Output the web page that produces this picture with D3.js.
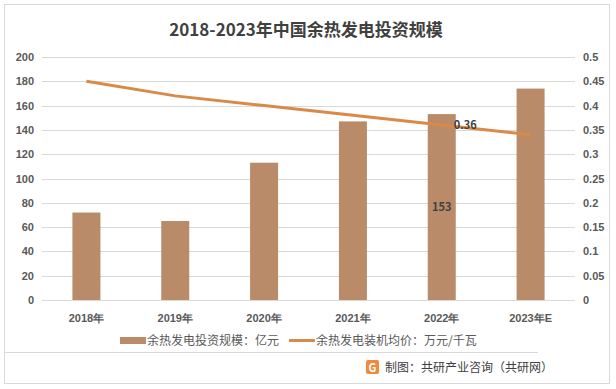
<!DOCTYPE html>
<html lang="zh">
<head>
    <meta charset="UTF-8">
    <title>2018-2023年中国余热发电投资规模</title>
    <style>
        html, body { margin: 0; padding: 0; background: #fff; }
        svg { display: block; font-family: "Noto Sans CJK SC", "Noto Sans", sans-serif; }
        .grid line { stroke: #d9d9d9; stroke-width: 1; }
        .tick text { fill: #595959; font-size: 11px; font-weight: bold; }
    </style>
    <script src="https://d3js.org/d3.v7.min.js"></script>
</head>
<body>
    <svg width="616" height="389"></svg>
    <script>
        // chart data
        var years = ["2018年", "2019年", "2020年", "2021年", "2022年", "2023年E"];
        var investment = [72, 65, 113, 147, 153, 174];      // 亿元
        var unitPrice = [0.45, 0.42, 0.40, 0.38, 0.36, 0.34]; // 万元/千瓦
        var leftTicks = [0, 20, 40, 60, 80, 100, 120, 140, 160, 180, 200];
        var rightTicks = [0, 0.05, 0.1, 0.15, 0.2, 0.25, 0.3, 0.35, 0.4, 0.45, 0.5];

        var svg = d3.select("svg");
        var plotLeft = 42, plotRight = 575, plotTop = 57, plotBottom = 300;

        // outer frame
        svg.append("rect")
            .attr("x", 4.5).attr("y", 4.5)
            .attr("width", 605).attr("height", 379)
            .attr("fill", "none").attr("stroke", "#d9d9d9");

        svg.append("text")
            .attr("x", 306).attr("y", 36)
            .attr("text-anchor", "middle")
            .attr("font-size", "17px").attr("font-weight", "bold")
            .attr("fill", "#404040")
            .text("2018-2023年中国余热发电投资规模");

        var x = d3.scaleBand().domain(years).range([plotLeft, plotRight]);
        var yL = d3.scaleLinear().domain([0, 200]).range([plotBottom, plotTop]);
        var yR = d3.scaleLinear().domain([0, 0.5]).range([plotBottom, plotTop]);

        // gridlines
        svg.append("g").attr("class", "grid")
            .selectAll("line").data(leftTicks).enter().append("line")
            .attr("x1", plotLeft).attr("x2", plotRight)
            .attr("y1", d => Math.round(yL(d)) + 0.5)
            .attr("y2", d => Math.round(yL(d)) + 0.5);

        var axL = svg.append("g")
            .attr("transform", "translate(" + (plotLeft - 4) + ",0)")
            .call(d3.axisLeft(yL).tickValues(leftTicks).tickSize(0).tickPadding(4));
        axL.select(".domain").remove();

        var axR = svg.append("g")
            .attr("transform", "translate(" + (plotRight + 4) + ",0)")
            .call(d3.axisRight(yR).tickValues(rightTicks).tickSize(0).tickPadding(4)
                .tickFormat(d => String(+d.toFixed(2))));
        axR.select(".domain").remove();

        var axX = svg.append("g")
            .attr("transform", "translate(0," + plotBottom + ")")
            .call(d3.axisBottom(x).tickSize(0).tickPadding(14));
        axX.select(".domain").remove();

        // bars
        var bw = 28;
        svg.append("g").selectAll("rect").data(investment).enter().append("rect")
            .attr("x", (d, i) => x(years[i]) + x.bandwidth() / 2 - bw / 2)
            .attr("y", d => yL(d))
            .attr("width", bw)
            .attr("height", d => plotBottom - yL(d))
            .attr("fill", "#b98b68");

        // line
        var line = d3.line()
            .x((d, i) => x(years[i]) + x.bandwidth() / 2)
            .y(d => yR(d));
        svg.append("path")
            .datum(unitPrice)
            .attr("d", line)
            .attr("fill", "none")
            .attr("stroke", "#d98a48")
            .attr("stroke-width", 3);

        // data labels (2022 only)
        var i22 = 4;
        svg.append("text")
            .attr("x", x(years[i22]) + x.bandwidth() / 2)
            .attr("y", yL(investment[i22] / 2) + 4)
            .attr("text-anchor", "middle")
            .attr("font-size", "11px").attr("font-weight", "bold").attr("fill", "#404040")
            .text(investment[i22]);
        svg.append("text")
            .attr("x", x(years[i22]) + x.bandwidth() / 2 + 12)
            .attr("y", yR(unitPrice[i22]) + 4)
            .attr("font-size", "11px").attr("font-weight", "bold").attr("fill", "#404040")
            .text(unitPrice[i22]);

        // legend
        var lg = svg.append("g").attr("font-size", "12px").attr("fill", "#595959");
        lg.append("rect").attr("x", 120).attr("y", 337).attr("width", 26).attr("height", 7).attr("fill", "#b98b68");
        lg.append("text").attr("x", 147).attr("y", 345).text("余热发电投资规模：亿元");
        lg.append("line").attr("x1", 289).attr("x2", 315).attr("y1", 340.5).attr("y2", 340.5)
            .attr("stroke", "#d98a48").attr("stroke-width", 3);
        lg.append("text").attr("x", 316).attr("y", 345).text("余热发电装机均价：万元/千瓦");

        // separator + source
        svg.append("line").attr("x1", 5).attr("x2", 538).attr("y1", 352.5).attr("y2", 352.5)
            .attr("stroke", "#d9d9d9");
        var logo = svg.append("g").attr("transform", "translate(366,360)");
        logo.append("rect").attr("width", 13).attr("height", 14).attr("rx", 2).attr("fill", "#f08a3c");
        logo.append("text").attr("x", 6.5).attr("y", 11.5).attr("text-anchor", "middle")
            .attr("font-size", "11px").attr("font-weight", "bold").attr("fill", "#fff").text("G");
        svg.append("text").attr("x", 385).attr("y", 372)
            .attr("font-size", "12px").attr("fill", "#404040")
            .text("制图：共研产业咨询（共研网）");
    </script>
</body>
</html>
